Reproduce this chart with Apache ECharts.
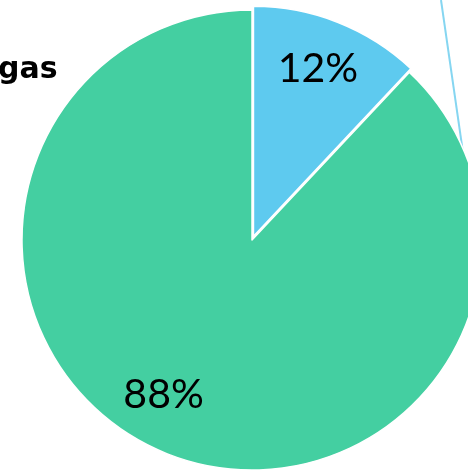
<!DOCTYPE html>
<html>
<head>
<meta charset="utf-8">
<script src="https://cdn.jsdelivr.net/npm/echarts@6/dist/echarts.min.js"></script>
<style>
html,body{margin:0;padding:0;background:#fff;}
#chart{width:468px;height:472px;}
</style>
</head>
<body>
<div id="chart"></div>
<script>
const titleText = 'gas';
const categories = ['Share A', 'Share B'];
const values = [12, 88];
const labels = ['12%', '88%'];
const colors = ['#5ecaef', '#44cfa1'];

const labelShift = [[21, -58], [-45, 45]];

const chart = echarts.init(document.getElementById('chart'), null, {renderer: 'canvas'});
chart.setOption({
  animation: false,
  title: {
    text: titleText,
    left: -2,
    top: 55,
    padding: 0,
    textStyle: {fontFamily: 'DejaVu Sans', fontWeight: 'bold', fontSize: 30, color: '#000'}
  },
  graphic: [{
    type: 'line',
    z: 0,
    shape: {x1: 441, y1: 0, x2: 472, y2: 215},
    style: {stroke: '#86d6f1', lineWidth: 2}
  }],
  series: [{
    type: 'pie',
    z: 5,
    center: [252, 240],
    radius: [0, 230],
    startAngle: 90,
    clockwise: true,
    selectedMode: 'single',
    selectedOffset: 4,
    avoidLabelOverlap: false,
    itemStyle: {borderColor: '#fff', borderWidth: 1.5},
    label: {
      show: true,
      position: 'inside',
      fontFamily: 'Lato',
      fontSize: 41,
      color: '#000',
      formatter: p => labels[p.dataIndex]
    },
    labelLine: {show: false},
    labelLayout: p => ({dx: labelShift[p.dataIndex][0], dy: labelShift[p.dataIndex][1]}),
    emphasis: {disabled: true},
    data: categories.map((c, i) => ({
      name: c,
      value: values[i],
      selected: i === 0,
      itemStyle: {color: colors[i]}
    }))
  }]
});
</script>
</body>
</html>
